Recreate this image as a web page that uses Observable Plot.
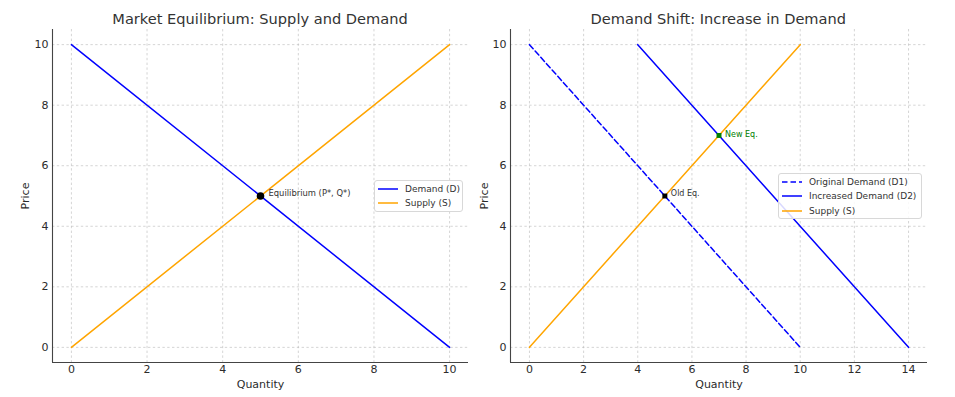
<!DOCTYPE html>
<html>
<head>
<meta charset="utf-8">
<script src="https://cdn.jsdelivr.net/npm/d3@7"></script>
<script src="https://cdn.jsdelivr.net/npm/@observablehq/plot@0.6"></script>
<style>
  html, body { margin: 0; padding: 0; background: #fff; }
  body { font-family: "DejaVu Sans", sans-serif; color: #333; }
  #wrap { position: relative; width: 955px; height: 397px; overflow: hidden; }
  .panel { position: absolute; top: 0; height: 397px; }
  .title { position: absolute; top: 12px; font-size: 14.6px; line-height: 1; white-space: nowrap; transform: translateX(-50%); color: #333; }
  .legend { position: absolute; background: rgba(255,255,255,0.85); border: 1px solid #d8d8d8; border-radius: 3px; box-sizing: border-box; font-size: 9px; color: #333; padding: 1px 4px 0 3px; }
  .legend .row { display: flex; align-items: center; height: 14.3px; white-space: nowrap; }
  .legend svg { margin-right: 7px; flex: none; }
</style>
</head>
<body>
<div id="wrap"></div>
<script>
// ---------- data ----------
const yTicks = [0, 2, 4, 6, 8, 10];
const leftXTicks = [0, 2, 4, 6, 8, 10];
const rightXTicks = [0, 2, 4, 6, 8, 10, 12, 14];
const yDomain = [-0.5, 10.5];
const leftXDomain = [-0.5, 10.5];
const rightXDomain = [-0.7, 14.7];

// left panel
const demandQuantity = [0, 10];
const demandPrice = [10, 0];
const supplyQuantity = [0, 10];
const supplyPrice = [0, 10];
const eqQuantity = [5];
const eqPrice = [5];
const eqLabel = ["Equilibrium (P*, Q*)"];

// right panel
const d1Quantity = [0, 10];
const d1Price = [10, 0];
const d2Quantity = [4, 14];
const d2Price = [10, 0];
const s2Quantity = [0, 10];
const s2Price = [0, 10];
const oldEqQuantity = [5];
const oldEqPrice = [5];
const oldEqLabel = ["Old Eq."];
const newEqQuantity = [7];
const newEqPrice = [7];
const newEqLabel = ["New Eq."];

const titles = ["Market Equilibrium: Supply and Demand", "Demand Shift: Increase in Demand"];
const leftLegend = [
  {label: "Demand (D)", color: "blue", dash: null},
  {label: "Supply (S)", color: "orange", dash: null}
];
const rightLegend = [
  {label: "Original Demand (D1)", color: "blue", dash: "5.5,3"},
  {label: "Increased Demand (D2)", color: "blue", dash: null},
  {label: "Supply (S)", color: "orange", dash: null}
];

// ---------- helpers ----------
const rows = (qs, ps) => qs.map((q, i) => ({q, p: ps[i]}));
const gridStyle = {stroke: "#b8b8b8", strokeOpacity: 0.75, strokeWidth: 0.8, strokeDasharray: "2.4,2.4"};
const font = "DejaVu Sans, sans-serif";

function basePlot({width, marginLeft, marginRight, xDomain, xTicks, yLabelOffset, marks}) {
  return Plot.plot({
    width, height: 397,
    marginTop: 29, marginBottom: 35, marginLeft, marginRight,
    style: {fontFamily: font, fontSize: "11px", color: "#333", background: "transparent", overflow: "visible"},
    x: {domain: xDomain},
    y: {domain: yDomain},
    marks: [
      Plot.gridX(xTicks, gridStyle),
      Plot.gridY(yTicks, gridStyle),
      Plot.axisX(xTicks, {tickSize: 0, tickPadding: 3, label: "Quantity", labelAnchor: "center", labelArrow: "none", labelOffset: 25, fill: "#2b2b2b", fontSize: 11}),
      Plot.axisY(yTicks, {tickSize: 0, tickPadding: 4, label: "Price", labelAnchor: "center", labelArrow: "none", labelOffset: yLabelOffset, fill: "#2b2b2b", fontSize: 11}),
      ...marks,
      Plot.ruleY([yDomain[0]], {stroke: "#444", strokeWidth: 1.1}),
      Plot.ruleX([xDomain[0]], {stroke: "#444", strokeWidth: 1.1})
    ]
  });
}

const wrap = document.getElementById("wrap");

function addPanel(left, width, plot) {
  const d = document.createElement("div");
  d.className = "panel";
  d.style.left = left + "px";
  d.style.width = width + "px";
  d.appendChild(plot);
  wrap.appendChild(d);
}
function addTitle(text, cx) {
  const t = document.createElement("div");
  t.className = "title";
  t.style.left = cx + "px";
  t.textContent = text;
  wrap.appendChild(t);
}
function addLegend(items, left, top, width) {
  const L = document.createElement("div");
  L.className = "legend";
  L.style.left = left + "px";
  L.style.top = top + "px";
  L.style.width = width + "px";
  for (const it of items) {
    const r = document.createElement("div");
    r.className = "row";
    r.innerHTML = `<svg width="20" height="4"><line x1="0" x2="20" y1="2" y2="2" stroke="${it.color}" stroke-width="1.5" ${it.dash ? `stroke-dasharray="${it.dash}"` : ""}/></svg><span>${it.label}</span>`;
    L.appendChild(r);
  }
  wrap.appendChild(L);
}

// ---------- left panel ----------
const leftPlot = basePlot({
  width: 477, marginLeft: 52, marginRight: 9, yLabelOffset: 31,
  xDomain: leftXDomain, xTicks: leftXTicks,
  marks: [
    Plot.line(rows(demandQuantity, demandPrice), {x: "q", y: "p", stroke: "blue", strokeWidth: 1.5}),
    Plot.line(rows(supplyQuantity, supplyPrice), {x: "q", y: "p", stroke: "orange", strokeWidth: 1.5}),
    Plot.dot(rows(eqQuantity, eqPrice), {x: "q", y: "p", r: 3.8, fill: "black", stroke: "none"}),
    Plot.text(eqQuantity.map((q, i) => ({q, p: eqPrice[i], t: eqLabel[i]})), {x: "q", y: "p", text: "t", dx: 8, dy: -3, textAnchor: "start", fontSize: 8.4, fill: "#333"})
  ]
});
addPanel(0, 477, leftPlot);

// ---------- right panel ----------
const rightPlot = basePlot({
  width: 478, marginLeft: 33, marginRight: 28, yLabelOffset: 30.5,
  xDomain: rightXDomain, xTicks: rightXTicks,
  marks: [
    Plot.line(rows(d1Quantity, d1Price), {x: "q", y: "p", stroke: "blue", strokeWidth: 1.5, strokeDasharray: "5.5,3"}),
    Plot.line(rows(d2Quantity, d2Price), {x: "q", y: "p", stroke: "blue", strokeWidth: 1.5}),
    Plot.line(rows(s2Quantity, s2Price), {x: "q", y: "p", stroke: "orange", strokeWidth: 1.5}),
    Plot.dot(rows(oldEqQuantity, oldEqPrice), {x: "q", y: "p", r: 2.8, fill: "black", stroke: "none", symbol: "square"}),
    Plot.dot(rows(newEqQuantity, newEqPrice), {x: "q", y: "p", r: 2.8, fill: "green", stroke: "none", symbol: "square"}),
    Plot.text(oldEqQuantity.map((q, i) => ({q, p: oldEqPrice[i], t: oldEqLabel[i]})), {x: "q", y: "p", text: "t", dx: 6, dy: -2.5, textAnchor: "start", fontSize: 8, fill: "#333"}),
    Plot.text(newEqQuantity.map((q, i) => ({q, p: newEqPrice[i], t: newEqLabel[i]})), {x: "q", y: "p", text: "t", dx: 6, dy: -1.5, textAnchor: "start", fontSize: 8, fill: "green"})
  ]
});
addPanel(477, 478, rightPlot);

addTitle(titles[0], 260);
addTitle(titles[1], 718.3);
addLegend(leftLegend, 374, 180, 89);
addLegend(rightLegend, 778, 173, 144);
</script>
</body>
</html>
